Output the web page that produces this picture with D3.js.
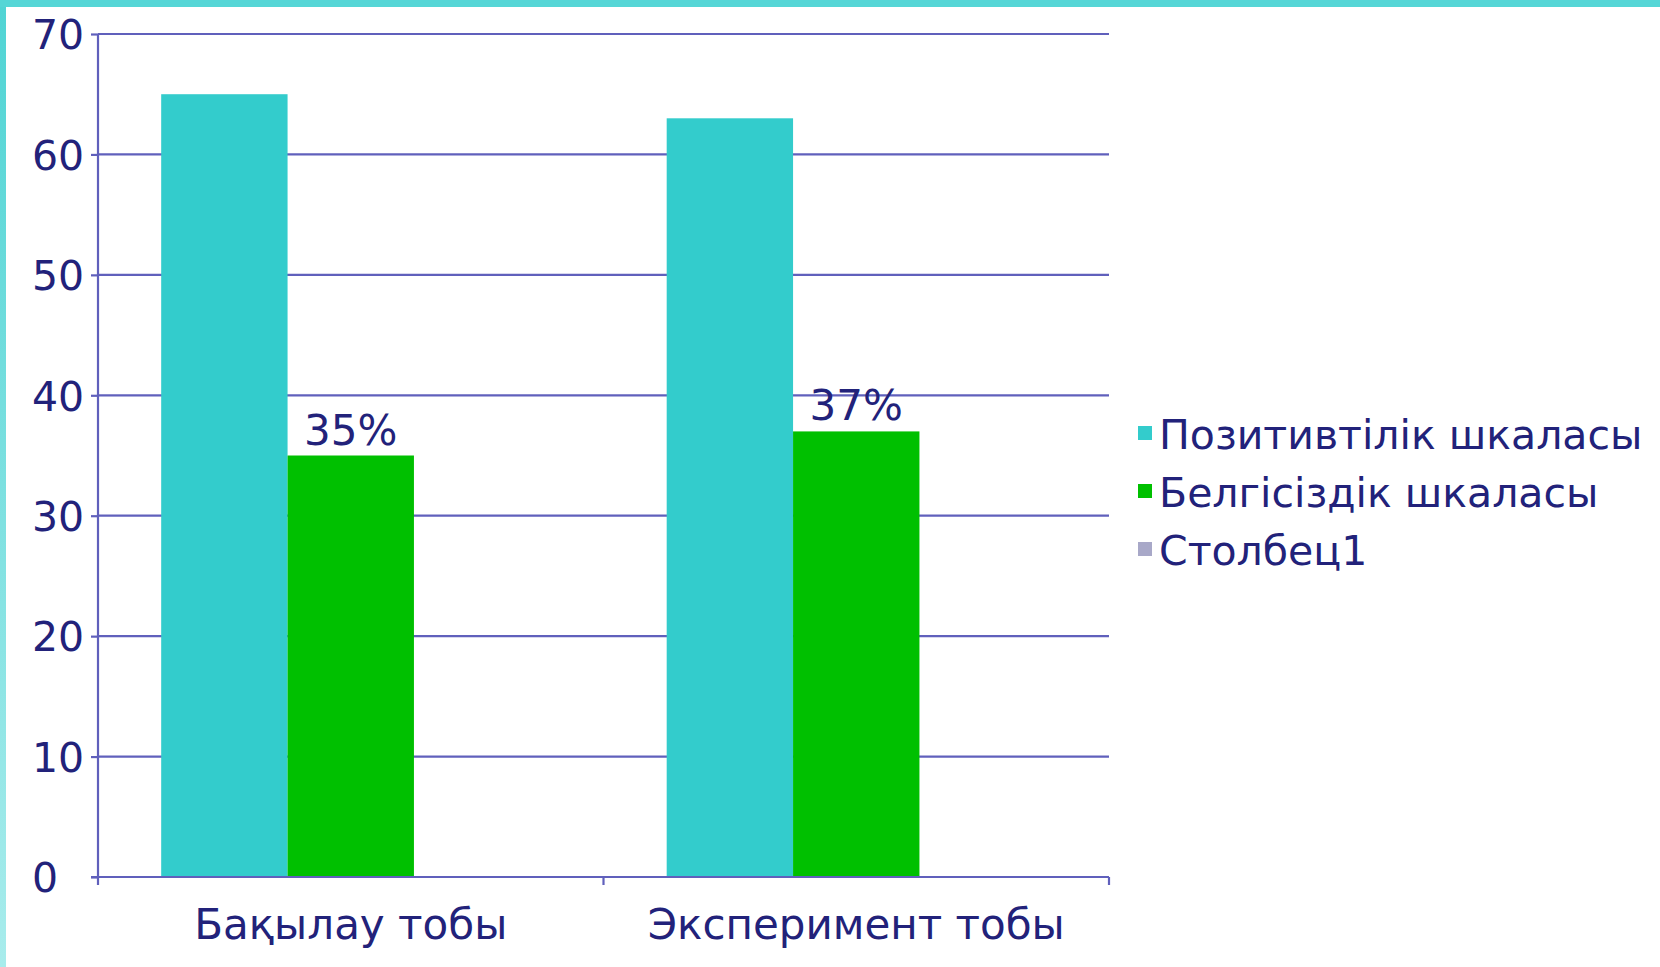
<!DOCTYPE html>
<html><head><meta charset="utf-8">
<script src="https://cdn.jsdelivr.net/npm/d3@7"></script>
<style>body{margin:0;background:#fff;overflow:hidden}svg{display:block}</style>
</head><body>
<script>
const categories = ["Бақылау тобы", "Эксперимент тобы"];
const seriesNames = ["Позитивтілік шкаласы", "Белгісіздік шкаласы", "Столбец1"];
const positiveValues = [65, 63];
const uncertaintyValues = [35, 37];
const column1Values = [null, null];
const valueLabels = ["35%", "37%"];
const yTicks = [0, 10, 20, 30, 40, 50, 60, 70];
const colors = ["#33CCCC", "#00C000", "#A8A8C8"];

const W = 1660, H = 967;
const textColor = "#22227A", gridColor = "#6060BC";
const font = "'DejaVu Sans', Verdana, sans-serif";

const svg = d3.select("body").append("svg").attr("width", W).attr("height", H);
const defs = svg.append("defs");
const lg = defs.append("linearGradient").attr("id","edge").attr("x1",0).attr("y1",0).attr("x2",0).attr("y2",1);
lg.append("stop").attr("offset","0%").attr("stop-color","#50D4D4");
lg.append("stop").attr("offset","100%").attr("stop-color","#A8ECEC");
svg.append("rect").attr("width",W).attr("height",H).attr("fill","#fff");
svg.append("rect").attr("x",0).attr("y",0).attr("width",6).attr("height",H).attr("fill","url(#edge)");
svg.append("rect").attr("x",0).attr("y",0).attr("width",W).attr("height",7).attr("fill","#55D6D6");

const x0 = d3.scaleBand().domain(categories).range([98, 1109]).paddingInner(0).paddingOuter(0);
const x1 = d3.scaleBand().domain(seriesNames).range([0, x0.bandwidth()]).paddingInner(0).paddingOuter(0.5);
const y = d3.scaleLinear().domain([0, 70]).range([877, 34]);

const data = categories.map((c, i) => ({cat: c, vals: [positiveValues[i], uncertaintyValues[i], column1Values[i]]}));

svg.append("g").selectAll("line").data(yTicks.filter(t => t > 0)).join("line")
  .attr("x1", 98).attr("x2", 1109).attr("y1", d => y(d)).attr("y2", d => y(d))
  .attr("stroke", gridColor).attr("stroke-width", 2.2);

const g = svg.append("g").selectAll("g").data(data).join("g")
  .attr("transform", d => `translate(${x0(d.cat)},0)`);
g.selectAll("rect").data(d => d.vals.map((v, k) => ({v, k})).filter(e => e.v != null)).join("rect")
  .attr("x", e => x1(seriesNames[e.k])).attr("width", x1.bandwidth())
  .attr("y", e => y(e.v)).attr("height", e => y(0) - y(e.v))
  .attr("fill", e => colors[e.k]);

svg.append("g").selectAll("text").data(data).join("text")
  .attr("x", (d) => x0(d.cat) + x1(seriesNames[1]) + x1.bandwidth() / 2)
  .attr("y", (d) => y(d.vals[1]) - 11)
  .attr("text-anchor", "middle").attr("font-family", font).attr("font-size", 42)
  .attr("fill", textColor).text((d, i) => valueLabels[i]);

const yAxis = d3.axisLeft(y).tickValues(yTicks).tickSize(7).tickFormat(d3.format("d"));
const ya = svg.append("g").attr("transform", "translate(98,0)").call(yAxis);
ya.select(".domain").attr("stroke", gridColor).attr("stroke-width", 2.2).attr("d", `M0,${y(70)}V${y(0)}`);
ya.selectAll(".tick line").attr("stroke", gridColor).attr("stroke-width", 2.2);
ya.selectAll(".tick text").attr("x", -66).attr("text-anchor", "start").attr("dy", "0.36em")
  .attr("font-family", font).attr("font-size", 41).attr("fill", textColor);

const xa = svg.append("g").attr("transform", `translate(0,${y(0)})`);
xa.append("line").attr("x1", 91).attr("x2", 1109).attr("y1", 0).attr("y2", 0).attr("stroke", gridColor).attr("stroke-width", 2.2);
const bounds = [x0.range()[0], ...categories.slice(1).map(c => x0(c)), x0.range()[1]];
xa.selectAll("line.tk").data(bounds).join("line").attr("class", "tk")
  .attr("x1", d => d).attr("x2", d => d).attr("y1", 0).attr("y2", 8)
  .attr("stroke", gridColor).attr("stroke-width", 2.2);
xa.selectAll("text").data(categories).join("text")
  .attr("x", d => x0(d) + x0.bandwidth() / 2).attr("y", 62)
  .attr("text-anchor", "middle").attr("font-family", font).attr("font-size", 42)
  .attr("fill", textColor).text(d => d);

const leg = svg.append("g").attr("transform", "translate(1138,434)");
const li = leg.selectAll("g").data(seriesNames).join("g").attr("transform", (d, i) => `translate(0,${i * 58})`);
li.append("rect").attr("x", 0).attr("y", -8).attr("width", 14).attr("height", 14).attr("fill", (d, i) => colors[i]);
li.append("text").attr("x", 21).attr("y", 0).attr("dy", "0.36em")
  .attr("font-family", font).attr("font-size", 41).attr("fill", textColor).text(d => d);
</script>
</body></html>
